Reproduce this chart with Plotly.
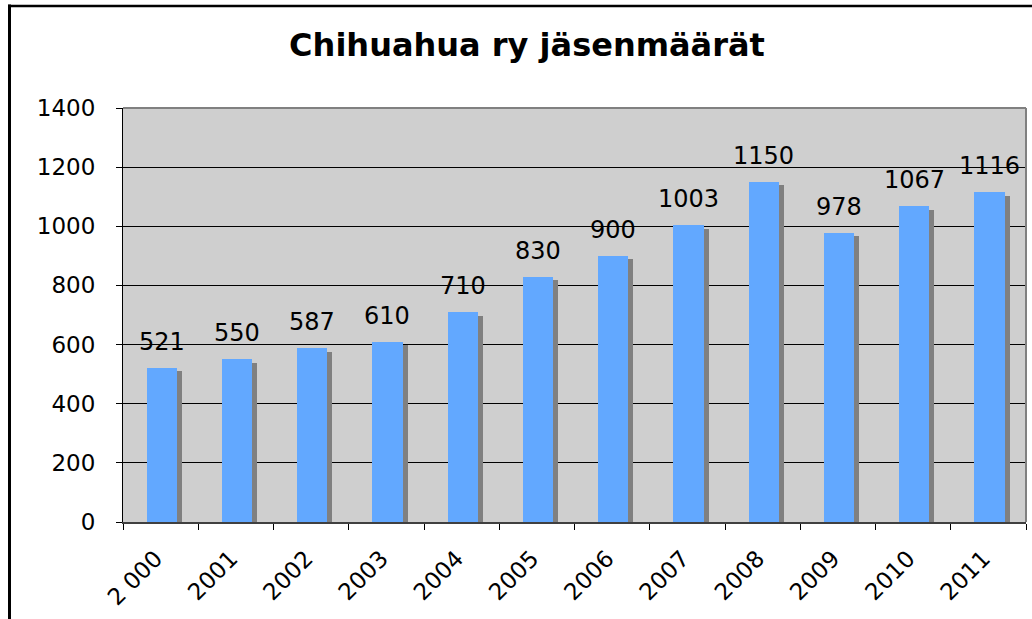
import plotly.graph_objects as go

# Data
categories = ["2 000", "2001", "2002", "2003", "2004", "2005", "2006",
              "2007", "2008", "2009", "2010", "2011"]
members = [521, 550, 587, 610, 710, 830, 900, 1003, 1150, 978, 1067, 1116]
title_text = "Chihuahua ry jäsenmäärät"
y_ticks = [0, 200, 400, 600, 800, 1000, 1200, 1400]

FONT = "DejaVu Sans, Verdana, sans-serif"
BLUE = "#62A8FF"
SHADOW = "#808080"
PLOT_BG = "#CFCFCF"
shadow_drop = 12  # style: how far the shadow sits below the bar top

W, H = 1032, 619
L, R, T, B = 123, 6, 108, 97
pw, ph = W - L - R, H - T - B
n = len(categories)

fig = go.Figure()

# shadow bars
fig.add_trace(go.Bar(
    x=categories, y=[v - shadow_drop for v in members],
    width=0.4, offset=-0.185 + 5 / (pw / n),
    marker=dict(color=SHADOW, line=dict(width=0)),
    hoverinfo="skip", showlegend=False,
))
# main bars
fig.add_trace(go.Bar(
    x=categories, y=members,
    width=0.4, offset=-0.185,
    marker=dict(color=BLUE, line=dict(width=0)),
    showlegend=False,
))

annotations = []
for i, v in enumerate(members):
    annotations.append(dict(
        x=i, y=v, xref="x", yref="y", text=str(v), showarrow=False,
        yanchor="bottom", xanchor="center", xshift=1, yshift=10,
        font=dict(family=FONT, size=24, color="black"),
    ))

def px_x(p):
    return (p - L) / pw

def px_y(p):
    return (H - B - p) / ph

shapes = [
    # plot area gray top and right border
    dict(type="line", xref="paper", yref="paper", x0=0, x1=1, y0=1, y1=1,
         line=dict(color="#808080", width=2)),
    dict(type="line", xref="paper", yref="paper", x0=1, x1=1, y0=0, y1=1,
         line=dict(color="#808080", width=2)),
    # chart outer border (left and top visible)
    dict(type="line", xref="paper", yref="paper", x0=px_x(9.5), x1=px_x(9.5),
         y0=px_y(640), y1=px_y(4.5), line=dict(color="black", width=3)),
    dict(type="line", xref="paper", yref="paper", x0=px_x(8), x1=px_x(1040),
         y0=px_y(6), y1=px_y(6), line=dict(color="black", width=2.5)),
]

fig.update_layout(
    width=W, height=H,
    margin=dict(l=L, r=R, t=T, b=B, pad=0),
    paper_bgcolor="white", plot_bgcolor=PLOT_BG,
    barmode="overlay", bargap=0,
    title=dict(text=f"<b>{title_text}</b>", x=527 / W, xanchor="center",
               y=1 - 45 / H, yanchor="middle",
               font=dict(family=FONT, size=32, color="black")),
    font=dict(family=FONT, color="black"),
    annotations=annotations,
    shapes=shapes,
    showlegend=False,
)

fig.update_xaxes(
    type="category", tickson="boundaries", ticks="outside", ticklen=6,
    tickcolor="black", tickwidth=1, range=[-0.5, n - 0.5],
    showline=True, linecolor="#404040", linewidth=2,
    showgrid=False, tickangle=-45,
    ticklabelstandoff=12, ticklabelshift=-5,
    tickfont=dict(family=FONT, size=23, color="black"),
)
fig.update_yaxes(
    range=[0, 1400], tickvals=y_ticks, ticks="outside", ticklen=6,
    tickcolor="black", tickwidth=1,
    showline=True, linecolor="black", linewidth=1,
    showgrid=True, gridcolor="black", gridwidth=1,
    zeroline=False, ticklabelstandoff=16,
    tickfont=dict(family=FONT, size=23, color="black"),
)

fig.write_html("out.html", config={"displayModeBar": False},
               post_script="document.body.style.margin='0';")
